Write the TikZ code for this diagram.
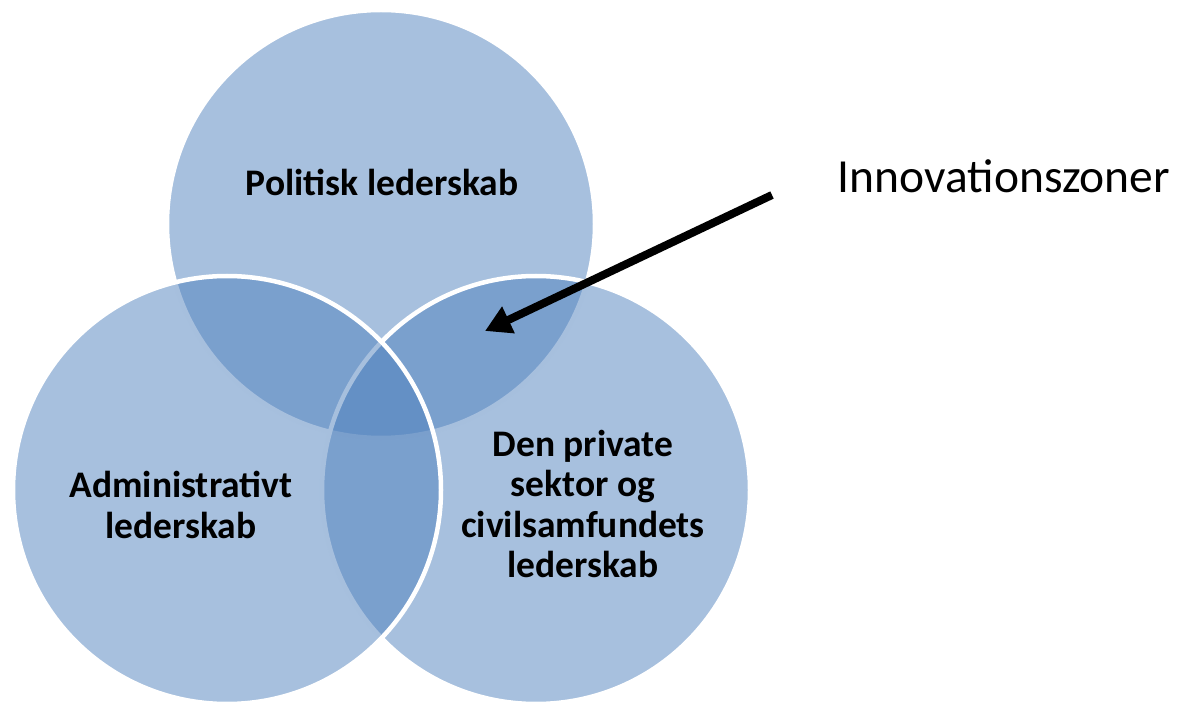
\documentclass[tikz,border=0pt]{standalone}
\usepackage{fontspec}
\setmainfont{Carlito}
\usetikzlibrary{arrows.meta}
\definecolor{vennblue}{HTML}{4F81BD}
\begin{document}
\begin{tikzpicture}[x=1pt,y=-1pt,
  venn/.style={circle, minimum size=428pt, inner sep=0pt, fill=vennblue,
    fill opacity=0.5, draw=white, draw opacity=1, line width=4.5pt},
  lbl/.style={font=\fontsize{37.5}{40.5}\selectfont\bfseries, align=center,
    text=black, inner sep=0pt},
  callout/.style={font=\fontsize{47.5}{56}\selectfont, text=black, inner sep=0pt},
  pointer/.style={line width=8pt, draw=black,
    -{Triangle[length=26pt, width=28pt]}}]
\useasboundingbox (0,0) rectangle (1179,703);
\node[venn] (top) at (381,224) {};
\node[venn] (right) at (536,490) {};
\node[venn] (left) at (227,490) {};
\node[lbl] (toplbl) at (382,182) {Politisk lederskab};
\node[lbl] (leftlbl) at (181,505) {Administrativt\\lederskab};
\node[lbl] (rightlbl) at (583,504) {Den private\\sektor og\\civilsamfundets\\lederskab};
\node[callout] (zone) at (1004,176) {Innovationszoner};
\coordinate (arrowstart) at (772,195);
\coordinate (arrowtip) at (485,331);
\draw[pointer] (arrowstart) -- (arrowtip);
\end{tikzpicture}
\end{document}
